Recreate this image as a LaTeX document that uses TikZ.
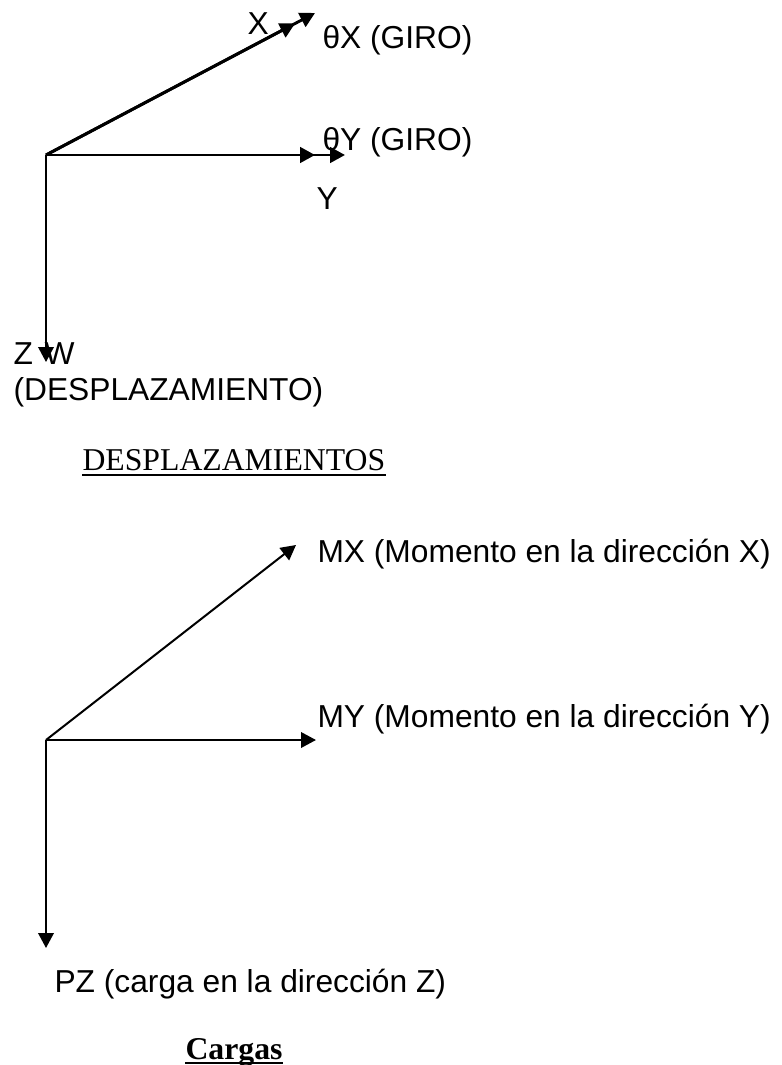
\documentclass[tikz,border=0pt]{standalone}
\usepackage{fontspec}
\setmainfont{Liberation Serif}
\setsansfont{Liberation Sans}
\usetikzlibrary{arrows.meta,calc}

\tikzset{
  axisarrow/.style={-{Triangle[length=5.6pt,width=5.8pt]},line width=0.75pt},
  axisthick/.style={axisarrow,line width=1.1pt},
  lbl/.style={inner sep=0pt,anchor=base west,font=\sffamily\fontsize{11.9}{14}\selectfont},
  caplbl/.style={inner sep=0pt,anchor=base west,font=\rmfamily\fontsize{11.9}{14}\selectfont}
}

\begin{document}
\begin{tikzpicture}[x=0.375pt,y=-0.375pt]
\useasboundingbox (0,0) rectangle (781,1065);
% desplazamientos
\coordinate (O1) at (46,155);
\coordinate (X1) at (295,23.5);
\coordinate (TX) at (315,13);
\coordinate (Y1) at (315,155);
\coordinate (TY) at (345,155);
\coordinate (Z1) at (46,362);
\draw[axisthick] (O1) -- (X1); %X
\draw[axisthick] (O1) -- (TX); %thetaX
\draw[axisthick] (O1) -- (Y1); %Y
\draw[axisthick] (O1) -- (TY); %thetaY
\draw[axisarrow] (O1) -- (Z1); %Z
\node[lbl] (lx) at (247,35) {X};
\node[lbl] (ltx) at (322,49) {θX (GIRO)};
\node[lbl] (lty) at (322,151) {θY (GIRO)};
\node[lbl] (ly) at (316,210) {Y};
\node[lbl] (lz) at (13,365) {Z};
\node[lbl] (lw) at (44,365) {W};
\node[lbl] (ldz) at (13,401) {(DESPLAZAMIENTO)};
\node[caplbl] (dsp) at (82,470) {DESPLAZAMIENTOS};
\draw[line width=0.75pt] ($(dsp.base west)+(0,5)$) -- ($(dsp.base east)+(0,5)$);
% cargas
\coordinate (O2) at (46,740);
\coordinate (MX) at (296,545);
\coordinate (MY) at (316,740);
\coordinate (PZ) at (46,948);
\draw[axisarrow] (O2) -- (MX); %MX
\draw[axisarrow] (O2) -- (MY); %MY
\draw[axisarrow] (O2) -- (PZ); %PZ
\node[lbl] (lmx) at (317,562) {MX (Momento en la dirección X)};
\node[lbl] (lmy) at (317,727) {MY (Momento en la dirección Y)};
\node[lbl] (lpz) at (54,992) {PZ (carga en la dirección Z)};
\node[caplbl,font=\rmfamily\bfseries\fontsize{11.9}{14}\selectfont] (crg) at (185,1059) {Cargas};
\draw[line width=0.75pt] ($(crg.base west)+(0,4)$) -- ($(crg.base east)+(0,4)$);
\end{tikzpicture}
\end{document}
